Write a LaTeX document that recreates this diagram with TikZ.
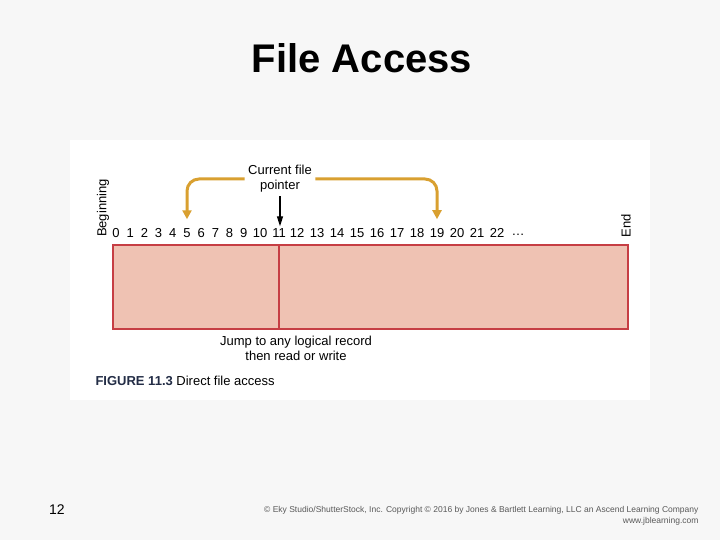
\documentclass[tikz,border=0pt]{standalone}
\usepackage{fontspec}
\setmainfont{Liberation Sans}
\usetikzlibrary{arrows.meta}
\definecolor{recfill}{RGB}{239,194,179}
\definecolor{recline}{RGB}{198,62,68}
\definecolor{ptrorange}{RGB}{217,160,48}
\definecolor{figblue}{RGB}{35,45,70}

\begin{document}
\begin{tikzpicture}[x=1pt, y=-1pt, >=latex,
  lbl/.style={font=\fontsize{13}{15}\selectfont, align=center},
  num/.style={font=\fontsize{13}{15}\selectfont, inner sep=1pt},
  jump/.style={-{Triangle[width=9pt,length=9pt]}, line width=3pt, ptrorange, rounded corners=12pt, shorten >=8pt}]
  \useasboundingbox (0,0) rectangle (720,540);
  % slide background and figure panel
  \fill[gray!6] (0,0) rectangle (720,540);
  \fill[white] (70,140) rectangle (650,400);
  % title
  \node[font=\fontsize{40}{44}\selectfont\bfseries] (title) at (362,58) {File Access};
  % record bar
  \node[draw=recline, fill=recfill, line width=1.8pt, minimum width=515pt, minimum height=84pt, inner sep=0pt, anchor=north west] (bar) at (112,244) {};
  % record numbers
  \foreach \i in {0,...,9} \node[num] (n\i) at (116+14.2*\i,233) {\i};
  \node[num] (n10) at (260,233) {10};
  \node[num] (n11) at (279,233) {11};
  \foreach \i in {12,...,22} \node[num] (n\i) at (57+20*\i,233) {\i};
  \node[num] (dots) at (518,235) {…};
  \draw[recline, line width=1.8pt] (n11 |- bar.north) -- (n11 |- bar.south);
  % ends of the file
  \node[lbl, rotate=90] (begin) at (103,208) {Beginning};
  \node[lbl, rotate=90] (end) at (626,226) {End};
  % file pointer
  \node[lbl] (ptr) at (280,179) {Current file\\pointer};
  \draw[-{Triangle[width=6pt,length=10pt]}, line width=1.3pt] (ptr.south) -- ([yshift=1pt]ptr.south |- n11.north);
  \draw[jump] (ptr.west) -| (n5.north);
  \draw[jump] (ptr.east) -| (n19.north);
  \node[lbl] (jumpnote) at (296,348) {Jump to any logical record\\then read or write};
  % caption
  \node[anchor=west, font=\fontsize{13}{15}\selectfont] (cap) at (92,381) {\textcolor{figblue}{\textbf{FIGURE 11.3}} Direct file access};
  % slide footer
  \node[font=\fontsize{14}{16}\selectfont] (page) at (57,510) {12};
  \node[anchor=north east, align=right, font=\fontsize{8.5}{10.5}\selectfont, text=gray!70!black] (copy) at (702,503) {© Eky Studio/ShutterStock, Inc. Copyright © 2016 by Jones \& Bartlett Learning, LLC an Ascend Learning Company\\www.jblearning.com};
\end{tikzpicture}
\end{document}
